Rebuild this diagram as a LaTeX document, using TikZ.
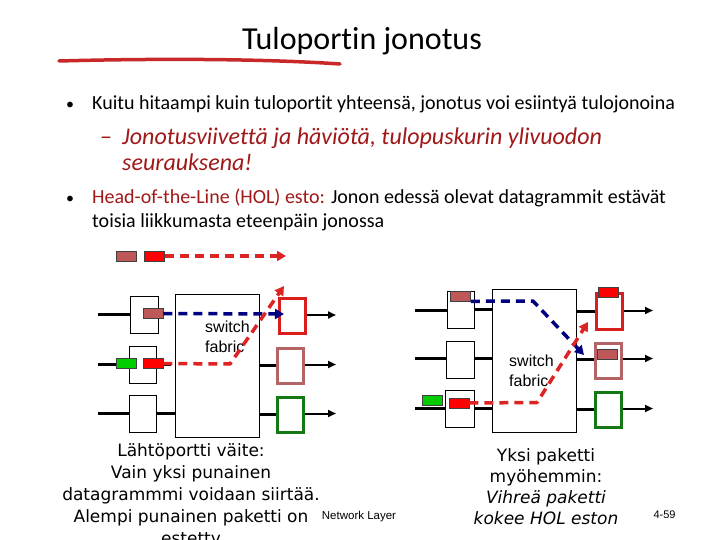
\documentclass[tikz,border=0pt]{standalone}
\usepackage{fontspec}
\setmainfont{Carlito}[Ligatures=NoCommon]
\newfontfamily\arialf{Liberation Sans}
\newfontfamily\tahf{DejaVu Sans}
\usetikzlibrary{arrows.meta}
\definecolor{pktred}{RGB}{255,0,0}
\definecolor{pktrose}{RGB}{190,88,88}
\definecolor{pktgreen}{RGB}{0,204,0}
\definecolor{outred}{RGB}{218,30,30}
\definecolor{outrose}{RGB}{180,100,100}
\definecolor{outgreen}{RGB}{20,120,20}
\definecolor{hnavy}{RGB}{0,0,128}
\definecolor{dashred}{RGB}{222,35,35}
\definecolor{slidered}{RGB}{160,25,25}
\definecolor{ulred}{RGB}{200,40,40}
\tikzset{
  inbox/.style={draw=black, line width=0.9pt, fill=white, inner sep=0pt, minimum width=28pt, minimum height=37pt},
  fabric/.style={draw=black, line width=0.9pt, fill=white, inner sep=0pt, minimum width=84pt, minimum height=143pt},
  outbox/.style={draw=#1, line width=3pt, fill=white, inner sep=0pt, minimum width=26pt, minimum height=35pt},
  pkt/.style={draw=black!75, line width=0.6pt, fill=#1, inner sep=0pt, minimum width=20pt, minimum height=10pt},
  link/.style={line width=3pt, black},
  outarr/.style={line width=2pt, black, -{Triangle[length=8pt,width=7pt]}},
  dasharr/.style={draw=#1, line width=3.5pt, dash pattern=on 9pt off 6pt, line join=round, -{Triangle[length=9pt,width=10pt,fill=#1]}},
  fabtxt/.style={font=\arialf\fontsize{16}{20}\selectfont, align=left, inner sep=0pt, anchor=north west},
  btxt/.style={font=\fontsize{20}{24}\selectfont, anchor=base west, inner sep=0pt},
  subtxt/.style={font=\fontsize{24}{28}\selectfont\itshape, text=slidered, anchor=base west, inner sep=0pt},
  captxt/.style={font=\tahf\fontsize{17}{22}\selectfont, align=center, inner sep=0pt, anchor=north},
}
\begin{document}
\begin{tikzpicture}[x=1pt,y=-1pt]
\useasboundingbox[fill=white] (0,0) rectangle (720,540);

% title
\node[font=\fontsize{32}{38}\selectfont, anchor=base, inner sep=0pt] (title) at (362,49.5) {Tuloportin jonotus};
\coordinate (ulA) at (59,61);
\coordinate (ulB) at (340,64);
\draw[ulred, line width=3.5pt, line cap=round] (ulA) .. controls (150,58.5) and (260,58.5) .. (ulB);

% bullets
\node[btxt, font=\fontsize{16}{20}\selectfont] (bul1) at (66,109.5) {•};
\node[btxt] (b1) at (92,110) {Kuitu hitaampi kuin tuloportit yhteensä, jonotus voi esiintyä tulojonoina};
\node[btxt, font=\fontsize{24}{28}\selectfont, text=slidered] (dash1) at (100,145) {–};
\node[subtxt] (s1) at (122,145) {Jonotusviivettä ja häviötä, tulopuskurin ylivuodon};
\node[subtxt] (s2) at (122,171) {seurauksena!};
\node[btxt, font=\fontsize{16}{20}\selectfont] (bul2) at (66,203.5) {•};
\node[btxt] (b2) at (92,204) {\textcolor{slidered}{Head-of-the-Line (HOL) esto:} Jonon edessä olevat datagrammit estävät};
\node[btxt] (b3) at (92,228) {toisia liikkumasta eteenpäin jonossa};

% ---------------- left diagram ----------------
\node[fabric] (Lfab) at (217.5,365.5) {};
\node[inbox] (Lin1) at (144.5,314.5) {};
\node[inbox, minimum width=27pt] (Lin2) at (142.5,365) {};
\node[inbox, minimum width=27pt] (Lin3) at (142.5,413.5) {};
\node[outbox=outred] (Lout1) at (292,315.5) {};
\node[outbox=outrose] (Lout2) at (290.5,365.5) {};
\node[outbox=outgreen] (Lout3) at (290.5,414.5) {};

\coordinate (Lsrc1) at (98,314);
\coordinate (Lsrc2) at (98,364);
\coordinate (Lsrc3) at (98,413);
\draw[link] (Lsrc1) -- (Lsrc1 -| Lin1.west);
\draw[link] (Lsrc2) -- (Lsrc2 -| Lin2.west);
\draw[link] (Lsrc3) -- (Lsrc3 -| Lin3.west);
\coordinate (Lstub2) at (171,364);
\draw[link] (Lin2.east |- Lstub2) -- (Lstub2);
\draw[link] (Lin3.east |- Lsrc3) -- (Lfab.west |- Lsrc3);
\draw[link] (Lfab.east |- Lout2.west) -- (Lout2.west);
\draw[link] (Lfab.east |- Lout3.west) -- (Lout3.west);
\coordinate (Ldst1) at (336,315);
\coordinate (Ldst2) at (336,364.5);
\coordinate (Ldst3) at (336,413.5);
\draw[outarr] (Lout1.east |- Ldst1) -- (Ldst1);
\draw[outarr] (Lout2.east |- Ldst2) -- (Ldst2);
\draw[outarr] (Lout3.east |- Ldst3) -- (Ldst3);

\node[fabtxt] (Lfabt) at (205,321) {switch\\fabric};

\node[pkt=pktrose] (Lleg1) at (126.5,256) {};
\node[pkt=pktred] (Lleg2) at (154.5,256) {};
\node[pkt=pktrose] (Lp1) at (153,313.5) {};
\node[pkt=pktgreen] (Lp2) at (126.5,363.5) {};
\node[pkt=pktred] (Lp3) at (153,363.5) {};

\coordinate (Llegtip) at (286,256);
\coordinate (Lbtip) at (284,314);
\coordinate (Lrbend) at (230,364);
\coordinate (Lrtip) at (284,286);
\draw[dasharr=dashred] (Lleg2.east) -- (Llegtip);
\draw[dasharr=hnavy] (Lp1.east) -- (Lbtip);
\draw[dasharr=dashred] (Lp3.east) -- (Lrbend) -- (Lrtip);

% ---------------- right diagram ----------------
\node[fabric] (Rfab) at (534,360.5) {};
\node[inbox, minimum width=27pt] (Rin1) at (460.5,309.5) {};
\node[inbox] (Rin2) at (460,359.5) {};
\node[inbox, minimum width=29pt] (Rin3) at (459.5,408.5) {};
\node[outbox=outred, minimum height=36pt] (Rout1) at (609,311) {};
\node[outbox=outrose] (Rout2) at (608,360.5) {};
\node[outbox=outgreen] (Rout3) at (608,409.5) {};

\coordinate (Rsrc1) at (415,310);
\coordinate (Rsrc2) at (415,358.5);
\coordinate (Rsrc3) at (415,408);
\draw[link] (Rsrc1) -- (Rsrc1 -| Rin1.west);
\draw[link] (Rsrc2) -- (Rsrc2 -| Rin2.west);
\draw[link] (Rsrc3) -- (Rsrc3 -| Rin3.west);
\draw[link] (Rin1.east |- 0,309) -- (Rfab.west |- 0,309);
\draw[link] (Rin2.east |- Rsrc2) -- (Rfab.west |- Rsrc2);
\draw[link] (Rin3.east |- Rsrc3) -- (Rfab.west |- Rsrc3);
\draw[link] (Rfab.east |- 0,311) -- (Rout1.west |- 0,311);
\draw[link] (Rfab.east |- 0,359) -- (Rout2.west |- 0,359);
\draw[link] (Rfab.east |- 0,409) -- (Rout3.west |- 0,409);
\coordinate (Rdst1) at (653,310.5);
\coordinate (Rdst2) at (653,358.5);
\coordinate (Rdst3) at (653,408.5);
\draw[outarr] (Rout1.east |- Rdst1) -- (Rdst1);
\draw[outarr] (Rout2.east |- Rdst2) -- (Rdst2);
\draw[outarr] (Rout3.east |- Rdst3) -- (Rdst3);

\node[fabtxt] (Rfabt) at (509,355) {switch\\fabric};

\node[pkt=pktrose] (Rp1) at (460.5,296) {};
\node[pkt=pktgreen] (Rp2) at (432.5,400) {};
\node[pkt=pktred] (Rp3) at (459,403) {};
\node[pkt=pktred] (Rq1) at (608.5,292) {};
\node[pkt=pktrose] (Rq2) at (607,354) {};

\coordinate (Rbbend) at (533,301);
\coordinate (Rbtip) at (584,355);
\coordinate (Rrbend) at (537,402.5);
\coordinate (Rrtip) at (588,322);
\draw[dasharr=hnavy] (Rp1.south east) -- (Rbbend) -- (Rbtip);
\draw[dasharr=dashred] (Rp3.east) -- (Rrbend) -- (Rrtip);

% captions
\node[captxt] (capL) at (191,443.5) {Lähtöportti väite:\\Vain yksi punainen\\datagrammmi voidaan siirtää.\\Alempi punainen paketti on\\estetty};
\node[captxt, font=\tahf\fontsize{17}{21}\selectfont] (capR) at (546,448) {Yksi paketti\\myöhemmin:\\\textit{Vihreä paketti}\\\textit{kokee HOL eston}};
\node[font=\arialf\fontsize{11.5}{13}\selectfont, inner sep=0pt] (netl) at (359,517) {Network Layer};
\node[font=\arialf\fontsize{11}{13}\selectfont, inner sep=0pt] (pgno) at (664.5,515) {4-59};
\end{tikzpicture}
\end{document}
